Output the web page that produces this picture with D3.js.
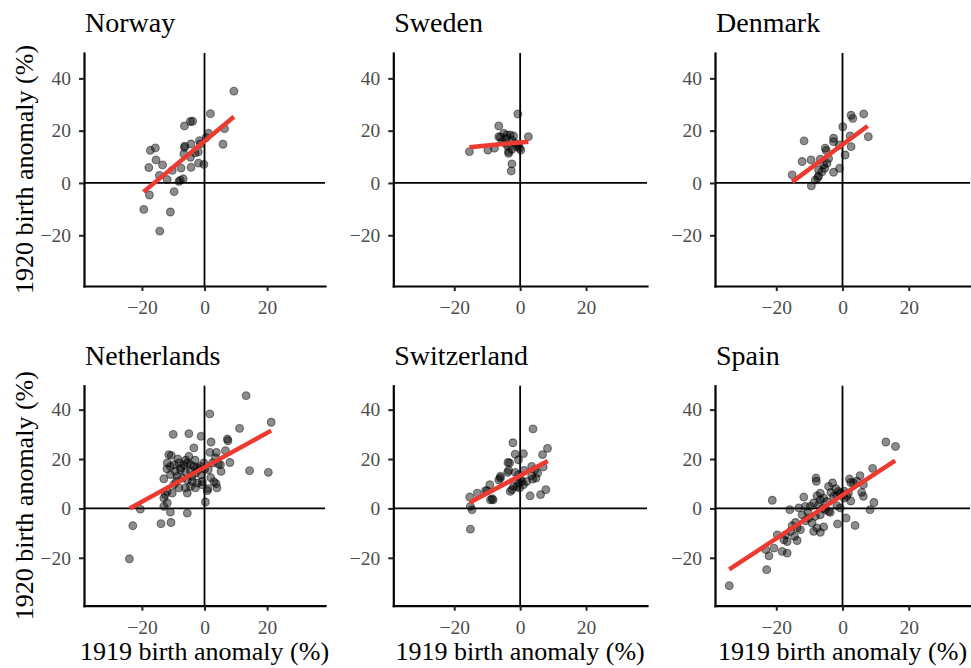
<!DOCTYPE html>
<html>
<head>
<meta charset="utf-8">
<script src="https://cdn.jsdelivr.net/npm/d3@7"></script>
<style>
  body { margin: 0; background: #fff; }
</style>
</head>
<body>
<svg id="chart" width="971" height="668"></svg>
<script>
const countries = ['Norway', 'Sweden', 'Denmark', 'Netherlands', 'Switzerland', 'Spain'];

// [1919 anomaly, 1920 anomaly] per region
const norway = [[9.4,35.1],[1.9,26.5],[-4.5,23.5],[-3.8,23.6],[-6.4,21.8],[6.4,20.8],[1.3,19.0],[-1.6,16.2],[0.5,17.3],[-4.3,14.9],[-1.3,14.9],[-6.4,13.6],[-6.3,14.1],[5.9,14.8],[-17.3,12.5],[-15.7,13.4],[-2.0,11.9],[-4.5,9.8],[-6.6,11.1],[-15.5,8.8],[-13.4,6.9],[-17.8,5.9],[-7.5,5.7],[-4.3,6.0],[-1.9,7.6],[-0.2,7.1],[-14.4,2.9],[-11.9,1.3],[-10.3,4.8],[-7.7,1.1],[-6.8,1.6],[-8.2,0.6],[-3.0,11.5],[-17.6,-4.6],[-9.7,-3.3],[-19.4,-10.1],[-10.9,-11.1],[-14.3,-18.4]];

const sweden = [[-0.7,26.4],[-6.5,21.8],[2.5,17.7],[-15.4,12.0],[-9.8,12.6],[-7.8,13.3],[-5.0,19.0],[-4.0,18.4],[-3.0,18.4],[-6.0,17.5],[-2.5,16.4],[-1.5,15.2],[-4.5,15.2],[-3.5,12.0],[-2.5,12.9],[-0.2,13.3],[0.2,12.6],[-1.2,13.9],[-5.5,15.8],[-2.0,18.0],[-2.5,7.3],[-2.7,4.6],[-3.5,11.3],[-6.5,17.7],[-4.2,17.0],[-3.8,14.0],[-0.5,14.5]];

const denmark = [[6.4,26.4],[2.6,25.9],[3.1,24.7],[0.1,21.5],[7.8,17.7],[2.3,18.0],[2.6,13.9],[-2.7,17.1],[-2.7,15.8],[-11.6,16.1],[-5.2,13.3],[-4.9,12.4],[0.8,10.7],[-12.2,8.2],[-9.5,8.8],[-6.7,9.1],[-4.2,9.4],[-4.7,7.5],[-5.4,5.6],[-7.2,5.0],[-0.9,5.6],[-2.7,4.1],[-15.2,3.1],[-7.2,2.7],[-7.5,2.0],[-8.2,1.1],[-9.4,-1.1],[-5.7,6.9],[-6.2,4.3],[-1.0,14.5]];

const netherlands = [[13.3,45.7],[1.7,38.3],[21.3,34.9],[11.2,32.4],[-10.0,30.0],[-5.0,30.3],[-1.1,29.2],[7.3,28.1],[7.5,27.4],[2.1,26.9],[-3.4,24.5],[-11.4,21.8],[-10.6,21.5],[-5.0,21.1],[1.7,22.7],[3.8,22.7],[6.7,23.4],[8.1,18.6],[14.4,15.3],[20.4,14.6],[5.3,15.0],[5.1,17.7],[4.4,18.0],[2.5,18.4],[1.2,15.7],[3.0,10.7],[3.7,10.0],[1.1,8.0],[4.0,8.3],[0.3,2.6],[-13.0,12.0],[-10.9,17.0],
  [-11.9,18.4],[-9.8,17.7],[-8.2,18.4],[-6.6,17.7],[-5.5,18.4],[-4.5,17.7],[-3.4,17.0],[-2.3,16.4],[-1.3,17.0],[-9.3,15.0],[-7.7,15.7],[-6.1,14.8],[-4.5,15.3],[-2.9,14.3],[-10.9,13.7],[-8.7,13.0],[-7.1,12.3],[-5.5,11.6],[-3.9,10.9],[-2.3,10.3],[-0.7,10.9],[-9.8,9.6],[-8.2,8.3],[-6.1,8.3],[-4.5,8.9],[-2.9,8.3],[-0.7,9.6],[-11.9,6.9],[-10.3,6.2],[-13.0,4.2],[-11.9,2.2],[-5.5,6.2],[0.9,7.2],[-1.8,15.7],[-0.2,18.4],
  [-7.5,16.5],[-6.0,19.5],[-3.0,19.5],[-8.5,20.0],[-1.0,13.5],[2.0,12.5],[-4.0,13.0],[0.0,16.0],[-9.0,11.0],[-12.0,16.0],[3.5,20.5],
  [-20.5,-0.3],[-22.9,-7.0],[-13.9,-6.2],[-10.7,-5.7],[-10.9,-1.5],[-5.5,-1.9],[-24.0,-20.4],[-13.0,0.8],[-12.5,5.6]];

const switzerland = [[3.9,32.2],[-2.2,26.6],[8.3,24.3],[6.8,21.8],[-1.5,22.0],[1.0,22.2],[-0.5,19.7],[-3.7,18.6],[-3.2,18.4],[7.0,16.8],[3.5,17.0],[4.5,15.7],[1.2,15.4],[-3.5,15.4],[-1.5,14.6],[5.3,14.3],[3.5,13.3],[-3.8,14.6],[-6.0,12.3],[-6.5,11.6],[-0.5,13.7],[0.0,11.9],[0.5,10.9],[-0.5,10.3],[1.0,9.6],[-1.0,8.9],[-2.0,8.9],[-3.0,6.9],[-2.5,7.6],[2.0,10.9],[-0.2,8.3],[3.8,11.9],[4.8,12.3],[3.0,5.1],[6.2,5.6],[7.8,7.6],[-9.2,9.6],[-8.5,3.9],[-9.0,3.5],[-10.5,7.2],[-13.0,6.2],[-15.3,4.6],[-15.1,0.8],[-14.6,-0.5],[-15.1,-8.4],[-10.0,7.2],[-8.2,3.5],[-6.0,13.0]];

const spain = [[13.1,26.9],[16.0,25.1],[9.1,16.2],[5.3,13.3],[2.1,11.9],[2.5,10.5],[-8.0,12.3],[-7.9,11.0],[-3.0,10.3],[-4.2,8.9],[6.3,9.6],[5.8,6.5],[6.3,4.9],[9.5,2.4],[8.3,-0.5],
  [-1.2,6.9],[-0.7,6.2],[0.3,5.6],[-1.7,5.1],[-2.7,4.9],[0.5,4.2],[1.3,4.9],[1.8,6.2],[3.3,10.3],[4.3,11.0],
  [-6.7,6.2],[-7.7,5.1],[-5.7,4.2],[-6.7,3.5],[-4.7,2.8],[-8.7,2.2],[-7.2,1.5],[-9.7,0.8],[-11.2,0.8],[-13.2,0.2],[-15.9,-0.5],[-11.7,4.6],[-21.2,3.3],[-1.7,1.1],[-0.7,0.2],[-4.2,-1.2],
  [1.1,-3.9],[3.8,-6.9],[-1.5,-6.3],
  [-12.2,-2.6],[-10.2,-3.9],[-8.2,-3.2],[-6.7,-2.6],[-9.2,-5.9],[-8.7,-9.3],[-6.7,-9.7],[-5.7,-7.5],[-7.7,-7.9],[-15.2,-7.0],[-13.7,-7.9],[-12.7,-8.6],[-15.7,-9.3],[-17.2,-10.7],[-14.5,-11.3],[-13.7,-13.0],[-19.7,-10.7],[-17.7,-12.7],[-16.7,-13.4],[-20.7,-16.1],[-18.2,-17.4],[-16.7,-18.1],[-22.2,-19.2],[-23.2,-16.7],[-22.9,-24.8],[-34.2,-31.3],
  [-11.2,-5.0],[-14.2,-5.7],[-3.7,-1.6],[-5.2,-0.5],[-3.5,6.5],[-2.0,8.0],[0.5,7.0],[2.5,3.0],[-10.5,-1.5],[-6.0,0.0]];

// linear fit endpoints [x1, y1, x2, y2]
const fits = [
  [-19.5, -3.4, 9.4, 25.3],
  [-15.4, 13.7, 2.5, 15.8],
  [-15.2, 0.4, 7.6, 21.8],
  [-23.9, 0.0, 21.3, 31.5],
  [-15.3, 2.4, 8.4, 19.2],
  [-34.2, -24.7, 15.9, 19.4]
];

const xTicks = [-20, 0, 20];
const yTicks = [-20, 0, 20, 40];
const xDomain = [-38.5, 38.5];
const yDomain = [-39.4, 49.7];
const xLabel = '1919 birth anomaly (%)';
const yLabel = '1920 birth anomaly (%)';

const panelData = [norway, sweden, denmark, netherlands, switzerland, spain];

const FONT = "'Liberation Serif', 'Liberation Sans', sans-serif";

// plot area of every column / row, in pixels
const cols = [[84, 325], [393.3, 647], [715, 970]];
const rows = [[53, 286], [385.7, 605.7]];
const titleBase = [32, 365];

const svg = d3.select('#chart');
svg.append('rect').attr('width', 971).attr('height', 668).attr('fill', '#fff');

countries.forEach((name, i) => {
    addPanel(name, panelData[i], fits[i], i % 3, Math.floor(i / 3));
});

function addPanel(name, data, fit, col, row) {
    const x = d3.scaleLinear().domain(xDomain).range(cols[col]);
    const y = d3.scaleLinear().domain(yDomain).range([rows[row][1], rows[row][0]]);
    const g = svg.append('g').attr('class', 'panel');

    // reference lines at zero
    g.append('line')
        .attr('x1', cols[col][0]).attr('x2', cols[col][1])
        .attr('y1', y(0)).attr('y2', y(0))
        .attr('stroke', '#000').attr('stroke-width', 1.8);
    g.append('line')
        .attr('x1', x(0)).attr('x2', x(0))
        .attr('y1', rows[row][0]).attr('y2', rows[row][1])
        .attr('stroke', '#000').attr('stroke-width', 1.8);

    g.append('g').attr('class', 'points')
        .selectAll('circle')
        .data(data)
        .enter()
        .append('circle')
        .attr('cx', d => x(d[0]))
        .attr('cy', d => y(d[1]))
        .attr('r', 3.9)
        .attr('fill', '#000')
        .attr('fill-opacity', 0.45)
        .attr('stroke', '#000')
        .attr('stroke-opacity', 0.45)
        .attr('stroke-width', 1.1);

    g.append('line')
        .attr('x1', x(fit[0])).attr('y1', y(fit[1]))
        .attr('x2', x(fit[2])).attr('y2', y(fit[3]))
        .attr('stroke', '#ec3a30')
        .attr('stroke-width', 4.5);

    drawXAxis(g, x, rows[row][1]);
    drawYAxis(g, y, cols[col][0]);

    g.append('text')
        .text(name)
        .attr('x', cols[col][0] + 1)
        .attr('y', titleBase[row])
        .style('font-family', FONT)
        .style('font-size', '28px')
        .attr('fill', '#000');

    if (col === 0) {
        g.append('text')
            .text(yLabel)
            .style('font-family', FONT)
            .style('font-size', '26px')
            .attr('text-anchor', 'middle')
            .attr('transform', 'translate(33,' + ((rows[row][0] + rows[row][1]) / 2) + '),rotate(-90)');
    }
    if (row === 1) {
        g.append('text')
            .text(xLabel)
            .style('font-family', FONT)
            .style('font-size', '26px')
            .attr('text-anchor', 'middle')
            .attr('x', (cols[col][0] + cols[col][1]) / 2)
            .attr('y', 660);
    }
}

function drawXAxis(g, x, bottom) {
    const axis = g.append('g')
        .attr('transform', 'translate(0,' + bottom + ')')
        .call(d3.axisBottom(x).tickValues(xTicks).tickSizeInner(5).tickSizeOuter(0).tickPadding(9).tickFormat(d3.format('d')));
    styleAxis(axis);
}

function drawYAxis(g, y, left) {
    const axis = g.append('g')
        .attr('transform', 'translate(' + left + ',0)')
        .call(d3.axisLeft(y).tickValues(yTicks).tickSizeInner(5).tickSizeOuter(0).tickPadding(8).tickFormat(d3.format('d')));
    styleAxis(axis);
}

function styleAxis(axis) {
    axis.select('path.domain').attr('stroke', '#000').attr('stroke-width', 2.2).attr('stroke-linecap', 'square');
    axis.selectAll('.tick line').attr('stroke', '#222').attr('stroke-width', 2);
    axis.selectAll('.tick text')
        .attr('fill', '#4d4d4d')
        .style('font-family', FONT)
        .style('font-size', '19.5px');
}
</script>
</body>
</html>
